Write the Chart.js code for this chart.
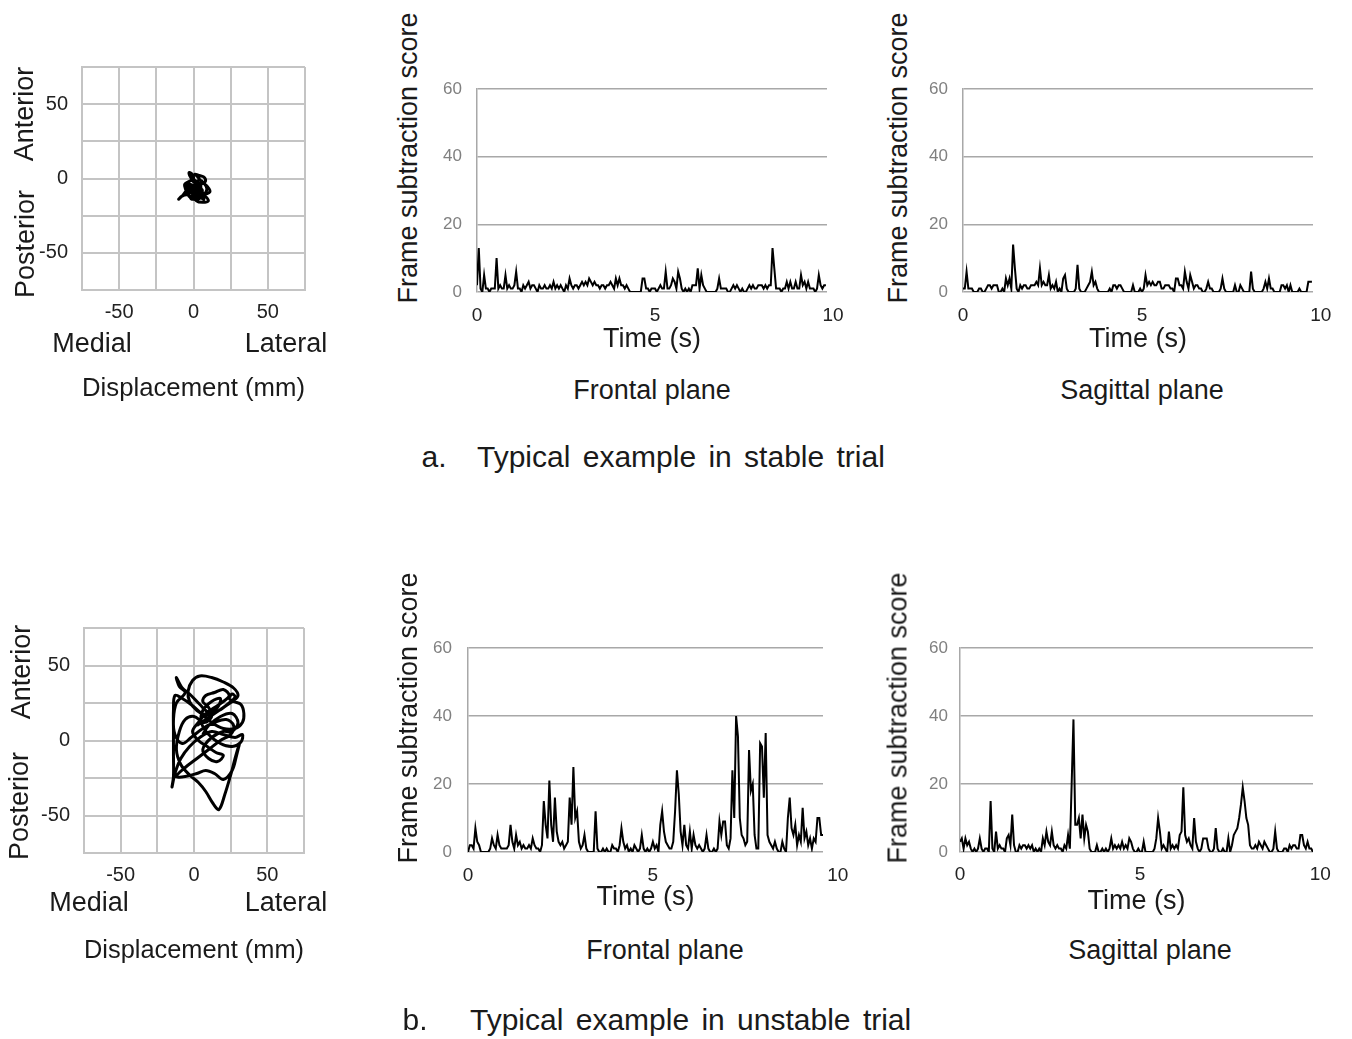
<!DOCTYPE html>
<html>
<head>
<meta charset="utf-8">
<script src="https://cdn.jsdelivr.net/npm/chart.js@4.4.0/dist/chart.umd.min.js"></script>
<style>
    body { margin: 0; background: #fff; width: 1352px; height: 1039px; position: relative; overflow: hidden;
           font-family: "Liberation Sans", Arial, sans-serif; color: #1a1a1a; }
    canvas { position: absolute; }
    .chu { position: absolute; white-space: nowrap; font-size: 27px; transform: translate(-50%, -50%); }
    .xoay { transform: translate(-50%, -50%) rotate(-90deg); }
    .tieuDe { position: absolute; white-space: nowrap; font-size: 30px; word-spacing: 4px; transform: translate(0, -50%); }
</style>
</head>
<body>

<canvas id="dichChuyenOnDinh" width="295" height="367" style="left:30px;top:37px"></canvas>
<canvas id="tranOnDinh" width="442" height="297" style="left:430px;top:59px"></canvas>
<canvas id="docOnDinh" width="442" height="297" style="left:916px;top:59px"></canvas>
<canvas id="dichChuyenKhongOnDinh" width="294" height="368" style="left:30px;top:598px"></canvas>
<canvas id="tranKhongOnDinh" width="448" height="296" style="left:420px;top:618px"></canvas>
<canvas id="docKhongOnDinh" width="446" height="300" style="left:912px;top:618px"></canvas>

<div class="chu xoay" style="left:24px;top:114px">Anterior</div>
<div class="chu xoay" style="left:25px;top:244px">Posterior</div>
<div class="chu" style="left:92px;top:343px">Medial</div>
<div class="chu" style="left:286px;top:343px">Lateral</div>
<div class="chu xoay" style="left:408px;top:158px">Frame subtraction score</div>
<div class="chu xoay" style="left:898px;top:158px">Frame subtraction score</div>
<div class="chu" style="left:652px;top:390px">Frontal plane</div>
<div class="chu" style="left:1142px;top:390px">Sagittal plane</div>
<div class="chu" style="left:434px;top:457px;font-size:30px">a.</div>
<div class="tieuDe" style="left:477px;top:457px">Typical example in stable trial</div>

<div class="chu xoay" style="left:21px;top:672px">Anterior</div>
<div class="chu xoay" style="left:19px;top:806px">Posterior</div>
<div class="chu" style="left:89px;top:902px">Medial</div>
<div class="chu" style="left:286px;top:902px">Lateral</div>
<div class="chu xoay" style="left:408px;top:718px">Frame subtraction score</div>
<div class="chu xoay" style="left:898px;top:718px">Frame subtraction score</div>
<div class="chu" style="left:665px;top:950px">Frontal plane</div>
<div class="chu" style="left:1150px;top:950px">Sagittal plane</div>
<div class="chu" style="left:415px;top:1020px;font-size:30px">b.</div>
<div class="tieuDe" style="left:470px;top:1020px">Typical example in unstable trial</div>

<script>
// Nhãn trục
const mocThoiGian = [0, 5, 10];
const mocDiem = [0, 20, 40, 60];
const mocDichChuyen = [-50, 0, 50];
const buocThoiGian = 0.05; // giây giữa hai điểm

// Điểm trừ khung hình - lần thử ổn định
const diemTranOnDinh = [
    2,13,1,0,5,1,1,0,1,1,1,10,1,2,1,1,5,1,2,1,
    1,2,6,1,1,0,2,1,2,3,1,2,2,1,0,2,1,1,2,1,
    1,2,1,3,1,2,1,2,1,0,2,1,4,2,1,2,2,1,2,3,
    2,3,2,4,3,2,3,2,2,1,2,2,1,2,2,3,2,1,4,2,
    4,2,2,1,2,1,0,0,0,0,0,0,0,4,4,1,1,0,1,1,
    1,0,1,2,1,1,6,1,1,2,4,3,1,6,4,1,0,1,0,1,
    0,2,2,2,7,1,5,2,1,0,0,0,0,0,0,1,4,1,1,1,
    1,0,0,1,2,1,2,1,0,1,0,0,1,2,1,2,1,1,2,2,
    2,1,2,1,2,2,13,7,1,1,1,0,1,1,3,1,3,1,1,3,
    1,1,5,2,3,1,3,1,1,1,0,1,5,2,1,2,2
];
const diemDocOnDinh = [
    1,1,6,1,1,1,0,0,0,1,1,0,0,1,2,2,1,2,2,2,
    0,0,1,0,4,2,4,1,14,7,1,0,2,1,2,2,1,1,2,2,
    2,3,2,7,2,3,2,2,5,1,2,1,3,0,1,0,4,5,1,0,
    0,0,0,1,8,1,0,0,0,1,2,3,6,2,3,1,0,0,0,0,
    0,0,1,0,2,2,1,2,2,1,0,0,0,0,0,2,0,0,0,1,
    0,1,5,2,3,2,3,2,2,3,3,1,1,2,2,2,1,1,0,4,
    4,2,2,1,6,3,1,5,3,1,2,2,1,1,0,0,1,3,1,1,
    0,0,0,0,1,4,1,0,0,0,0,0,2,0,0,2,1,0,0,0,
    0,6,1,0,0,0,0,0,1,3,1,4,1,1,0,0,0,0,2,2,
    1,2,0,2,0,0,0,0,1,0,0,0,0,3,3,3
];

// Điểm trừ khung hình - lần thử không ổn định
const diemTranKhongOnDinh = [
    0,2,2,1,7,3,2,0,0,0,0,0,1,4,2,1,5,2,1,1,
    1,1,2,8,3,1,5,2,3,1,2,1,1,2,1,4,2,1,1,0,
    2,15,8,4,21,8,3,16,6,3,2,3,1,2,3,16,8,25,10,12,
    3,1,2,5,1,0,0,0,0,12,1,0,0,1,0,1,0,0,2,1,
    1,0,2,7,3,1,2,0,1,0,2,1,0,1,5,1,0,1,0,1,
    3,1,2,0,8,12,6,3,2,1,1,3,12,24,17,6,2,8,2,1,
    6,1,5,2,1,2,1,0,1,5,1,0,0,1,0,1,9,5,9,9,
    2,1,4,24,10,40,34,10,5,4,2,3,30,18,20,5,1,1,32,31,
    16,35,5,3,2,1,3,1,0,0,3,1,0,10,16,7,5,8,2,5,
    3,13,4,6,2,4,1,4,3,10,10,5,5
];
const diemDocKhongOnDinh = [
    3,4,1,4,2,3,1,0,1,0,1,4,1,0,1,1,0,15,1,0,
    6,1,2,1,1,0,4,5,2,11,2,0,0,2,1,2,2,1,2,1,
    2,0,1,0,1,0,4,2,6,3,2,6,2,1,2,1,1,0,2,1,
    5,1,20,39,8,8,10,4,11,4,8,6,1,0,0,0,2,0,0,1,
    0,1,0,1,4,1,2,1,2,1,3,1,2,1,4,3,1,0,0,1,
    0,0,3,0,0,0,0,0,1,4,10,6,1,2,1,0,6,1,2,1,
    2,1,5,6,19,5,3,4,2,1,10,3,1,0,1,4,4,4,1,0,
    0,1,7,1,0,0,1,0,0,4,0,2,5,6,7,10,14,19,15,10,
    8,2,1,1,2,1,3,2,1,3,2,1,0,0,1,6,1,0,0,0,
    1,1,0,2,1,2,2,1,1,5,5,2,1,3,1,1,0
];

// Quỹ đạo dịch chuyển (mm): trong-ngoài (x), trước-sau (y)
const quyDaoOnDinhX = [0,3,5,2,-2,-4,-1,2,4,6,4,0,-3,-5,-6,-3,0,-1,-3,-2,1,4,7,9,7,3,-1,-4,-8,-10,
    -7,-4,-2,1,4,8,10,6,2,-1,-3,-5,-2,1,5,11,9,5,3,1,4,7,8,5,2,-1,-4,-2,2,6,3,0,-3,-1,3,7,4,1];
const quyDaoOnDinhY = [-5,-3,-6,-9,-8,-4,-1,-2,-5,-9,-13,-14,-12,-8,-4,-2,0,3,4,1,-3,-1,-3,-7,-11,-14,-13,-11,-12,-14,
    -11,-7,-4,-6,-9,-12,-15,-16,-15,-10,-6,-3,-6,-10,-11,-9,-5,-2,1,3,2,1,-2,-4,-5,-7,-9,-12,-11,-8,-6,-8,-10,-14,-12,-14,-10,-7];
const quyDaoKhongOnDinhX = [2,8,14,20,26,30,27,20,12,4,-1,-4,-3,2,9,17,24,28,26,24,
    27,32,34,33,28,20,12,5,-2,-8,-13,-14,-14,-14,-14,-15,-13,-9,-3,4,
    12,20,28,33,32,26,18,10,5,6,12,18,16,10,4,-3,-8,-12,-10,-6,
    -12,-14,-13,-8,-2,6,14,22,27,25,18,10,2,-6,-12,-6,2,8,14,20,
    26,29,31,28,25,21,17,13,8,3,-3,-9,-12,-10,-6,0,7,12,10,6,
    8,14,20,24,20,14,8,3,-1,3,9,15,20,16,10,6,12,20,26,30,26,18,10,6];
const quyDaoKhongOnDinhY = [10,14,18,22,26,30,35,39,42,43,40,33,26,20,17,20,25,29,31,28,
    26,24,18,12,8,8,12,18,24,28,30,20,6,-10,-24,-31,-22,-12,-4,2,
    6,4,2,4,-1,-4,-2,4,12,20,26,28,22,19,24,31,35,42,36,32,
    25,14,4,-2,2,8,12,14,10,4,0,-6,-12,-18,-24,-24,-22,-20,-22,-26,
    -20,-10,-2,-12,-23,-36,-46,-42,-34,-28,-23,-16,-6,6,14,16,12,16,22,26,
    30,32,34,30,26,22,18,12,6,0,-4,-8,-10,-14,-12,-6,2,6,6,12,18,16,10,4];

Chart.defaults.font.family = '"Liberation Sans", Arial, sans-serif';
Chart.defaults.color = '#222';

const mauLuoi = '#a8a8a8';

function veBieuDoThoiGian(id, giaTri, xMax, rongTrucY, caoTrucX, dem) {
    const diem = giaTri.map((v, i) => ({ x: i * buocThoiGian, y: v }));
    new Chart(document.getElementById(id), {
        type: 'line',
        data: {
            datasets: [{
                data: diem,
                borderColor: '#000',
                borderWidth: 2,
                pointRadius: 0,
                tension: 0
            }]
        },
        options: {
            responsive: false,
            animation: false,
            // chừa chỗ cho nhãn "10" nằm ngoài vùng vẽ
            layout: { padding: { top: 30, right: 45, left: 0, bottom: 0 } },
            plugins: { legend: { display: false }, tooltip: { enabled: false } },
            scales: {
                x: {
                    type: 'linear',
                    min: 0,
                    max: xMax,
                    afterBuildTicks: s => { s.ticks = mocThoiGian.map(v => ({ value: v })); },
                    afterFit: s => { s.height = caoTrucX; },
                    grid: { display: false, drawTicks: false },
                    border: { display: false },
                    ticks: { padding: dem.x, color: '#222', font: { size: 19 } },
                    title: { display: true, text: 'Time (s)', color: '#1a1a1a', font: { size: 27 }, padding: 0 }
                },
                y: {
                    min: 0,
                    max: 60,
                    afterBuildTicks: s => { s.ticks = mocDiem.map(v => ({ value: v })); },
                    afterFit: s => { s.width = rongTrucY; },
                    grid: { color: mauLuoi, lineWidth: 1.5, drawTicks: false },
                    border: { color: mauLuoi, width: 1.5 },
                    ticks: { padding: dem.y, color: '#808080', font: { size: 17 } }
                }
            }
        }
    });
}

function veBieuDoDichChuyen(id, xs, ys, rongTrucY, caoTrucX) {
    const diem = xs.map((x, i) => ({ x: x, y: ys[i] }));
    const nhan = v => mocDichChuyen.includes(v) ? String(v) : '';
    new Chart(document.getElementById(id), {
        type: 'scatter',
        data: {
            datasets: [{
                data: diem,
                showLine: true,
                borderColor: '#000',
                borderWidth: 3,
                pointRadius: 0,
                tension: 0.35
            }]
        },
        options: {
            responsive: false,
            animation: false,
            layout: { padding: { top: 30, right: 20, left: 0, bottom: 0 } },
            plugins: { legend: { display: false }, tooltip: { enabled: false } },
            scales: {
                x: {
                    min: -75,
                    max: 75,
                    afterFit: s => { s.height = caoTrucX; },
                    grid: { color: '#c4c4c4', lineWidth: 2, drawTicks: false },
                    border: { color: '#c4c4c4', width: 2 },
                    ticks: { stepSize: 25, callback: nhan, padding: 10, color: '#222', font: { size: 20 } },
                    title: { display: true, text: 'Displacement (mm)', color: '#1a1a1a', font: { size: 26 }, padding: 0 }
                },
                y: {
                    min: -75,
                    max: 75,
                    afterFit: s => { s.width = rongTrucY; },
                    grid: { color: '#c4c4c4', lineWidth: 2, drawTicks: false },
                    border: { color: '#c4c4c4', width: 2 },
                    ticks: { stepSize: 25, callback: nhan, padding: 14, color: '#222', font: { size: 20 } }
                }
            }
        }
    });
}

veBieuDoDichChuyen('dichChuyenOnDinh', quyDaoOnDinhX, quyDaoOnDinhY, 52, 114);
veBieuDoThoiGian('tranOnDinh', diemTranOnDinh, 9.83, 47, 64, { x: 12, y: 15 });
veBieuDoThoiGian('docOnDinh', diemDocOnDinh, 9.78, 47, 64, { x: 12, y: 15 });

veBieuDoDichChuyen('dichChuyenKhongOnDinh', quyDaoKhongOnDinhX, quyDaoKhongOnDinhY, 54, 113);
veBieuDoThoiGian('tranKhongOnDinh', diemTranKhongOnDinh, 9.6, 48, 62, { x: 12, y: 16 });
veBieuDoThoiGian('docKhongOnDinh', diemDocKhongOnDinh, 9.8, 48, 66, { x: 11, y: 12 });
</script>
</body>
</html>
